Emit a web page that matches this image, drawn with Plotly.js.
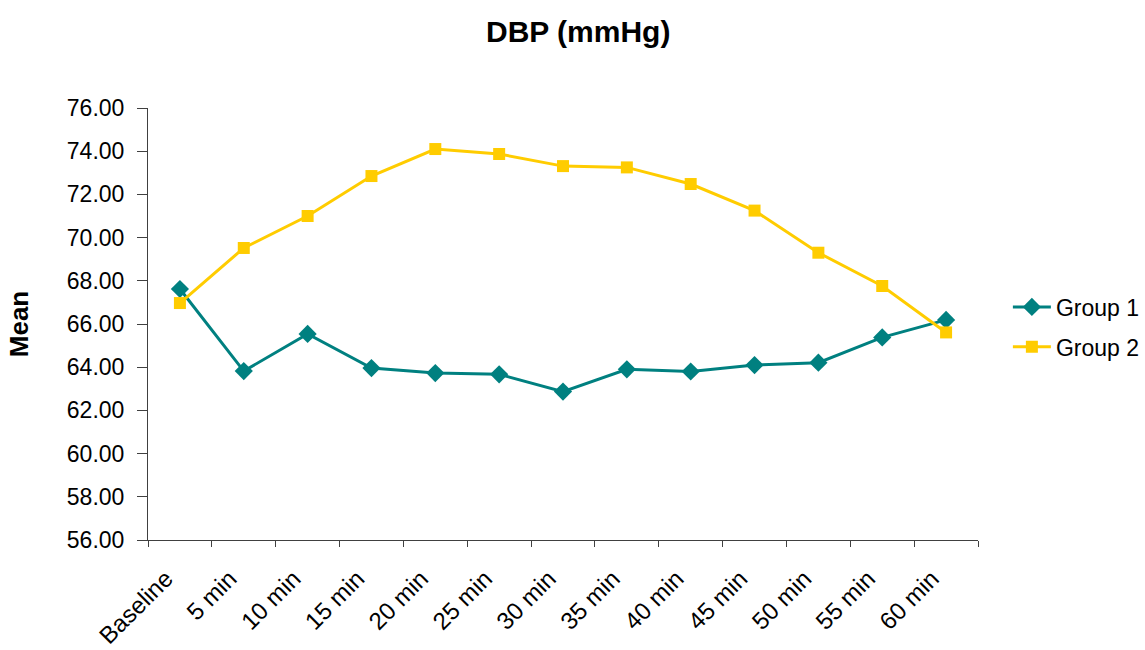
<!DOCTYPE html>
<html>
<head>
<meta charset="utf-8">
<script src="https://cdn.plot.ly/plotly-3.0.1.min.js"></script>
<style>
  html, body { margin: 0; padding: 0; background: #ffffff; }
  #chart { width: 1145px; height: 650px; }
</style>
</head>
<body>
<div id="chart"></div>
<script>
// Time points of the measurement
const timePoints = ["Baseline", "5 min", "10 min", "15 min", "20 min", "25 min", "30 min",
                    "35 min", "40 min", "45 min", "50 min", "55 min", "60 min"];

// Mean diastolic blood pressure per group (mmHg)
const group1 = [67.62, 63.82, 65.54, 63.96, 63.73, 63.67, 62.87, 63.90, 63.80, 64.10, 64.21, 65.38, 66.19];
const group2 = [66.97, 69.52, 71.00, 72.85, 74.10, 73.87, 73.31, 73.25, 72.48, 71.25, 69.30, 67.76, 65.61];

const FONT = "Liberation Sans, Arial, sans-serif";

const traces = [
  {
    x: timePoints, y: group1, name: "Group 1", type: "scatter", mode: "lines+markers",
    legendgroup: "g1",
    line: { color: "#008080", width: 3 },
    marker: { symbol: "diamond", size: 14, color: "#008080" }
  },
  {
    x: timePoints, y: group2, name: "Group 2", type: "scatter", mode: "lines+markers",
    legendgroup: "g2",
    line: { color: "#FFCC00", width: 3 },
    marker: { symbol: "square", size: 12, color: "#FFCC00" }
  }
];

const layout = {
  width: 1145, height: 650,
  paper_bgcolor: "#ffffff", plot_bgcolor: "#ffffff",
  font: { family: FONT, size: 23, color: "#000000" },
  // fixed plot area; the legend may sit in the right margin without resizing it
  margin: { l: 148, r: 167, t: 108, b: 110, pad: 0, autoexpand: false },
  title: {
    text: "<b>DBP (mmHg)</b>",
    font: { family: FONT, size: 30, color: "#000000" },
    xref: "container", x: 0.505, xanchor: "center",
    yref: "container", y: 0.952, yanchor: "middle"
  },
  xaxis: {
    type: "category",
    range: [-0.5, 12.5],
    showgrid: false, zeroline: false,
    showline: true, linecolor: "#404040", linewidth: 1,
    ticks: "outside", tickson: "boundaries", ticklen: 6, tickcolor: "#404040",
    tickangle: -45,
    ticklabelstandoff: 14, ticklabelshift: -14,
    tickfont: { family: FONT, size: 24, color: "#000000" },
    automargin: false
  },
  yaxis: {
    range: [56, 76],
    dtick: 2, tick0: 56,
    tickformat: ".2f",
    showgrid: false, zeroline: false,
    showline: true, linecolor: "#404040", linewidth: 1,
    ticks: "outside", ticklen: 10, tickcolor: "#404040",
    ticklabelstandoff: 8,
    tickfont: { family: FONT, size: 23, color: "#000000" },
    title: { text: "<b>Mean</b>", font: { family: FONT, size: 26, color: "#000000" }, standoff: 30 },
    automargin: false
  },
  showlegend: true,
  legend: {
    x: 1.036, xanchor: "left", y: 0.493, yanchor: "middle",
    traceorder: "grouped", tracegroupgap: 7,
    itemwidth: 38,
    font: { family: FONT, size: 23, color: "#000000" },
    bgcolor: "rgba(0,0,0,0)"
  }
};

Plotly.newPlot("chart", traces, layout, { displayModeBar: false, staticPlot: true });
</script>
</body>
</html>
